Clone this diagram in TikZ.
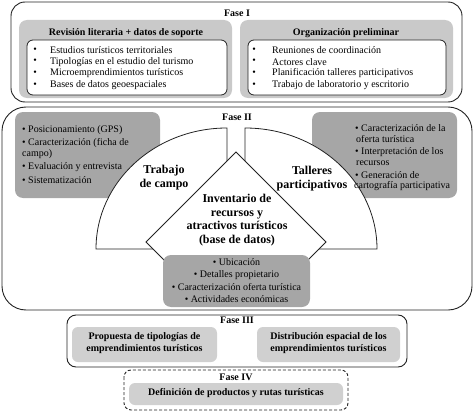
\documentclass[tikz,border=0pt]{standalone}
\usepackage{fontspec}
\setmainfont{Liberation Serif}
\definecolor{gI}{HTML}{C9C9C9}
\definecolor{gII}{HTML}{A6A6A6}
\definecolor{gIII}{HTML}{D0D0D0}
\definecolor{lineC}{HTML}{222222}
\begin{document}
\begin{tikzpicture}[x=1pt,y=1pt,
  phase/.style={draw=lineC,line width=0.9pt},
  inbox/.style={draw=lineC,fill=white,line width=0.8pt,rounded corners=6pt},
  txt/.style={inner sep=0pt,font=\fontsize{10}{12}\selectfont},
  btxt/.style={inner sep=0pt,align=center,font=\fontsize{10}{12.2}\selectfont\bfseries},
  fanlbl/.style={inner sep=0pt,align=center,font=\fontsize{12}{13.5}\selectfont\bfseries},
  fanshape/.style={draw=lineC,line width=0.8pt,fill=white}]
\useasboundingbox (0,0) rectangle (474,-412);

% ---------------- Fase I ----------------
\draw[phase,rounded corners=14pt] (11,-2) rectangle (462,-102);
\fill[gI,rounded corners=8pt] (19,-20) rectangle (232,-98);
\fill[gI,rounded corners=8pt] (240,-20) rectangle (453,-98);
\draw[inbox] (27,-40) rectangle (227,-95);
\draw[inbox] (248,-40) rectangle (446,-95);
\node[btxt] (f1) at (237,-13) {Fase I};
\node[btxt] (rev) at (126,-33) {Revisión literaria + datos de soporte};
\node[btxt] (org) at (346,-33) {Organización preliminar};
\foreach \t [count=\i] in {Estudios turísticos territoriales,Tipologías en el estudio del turismo,Microemprendimientos turísticos,Bases de datos geoespaciales}{
  \node[txt] (lb\i) at (35,-50-11.7*\i+11.7) {•};
  \node[txt,anchor=west] (lt\i) at (50,-50-11.7*\i+11.7) {\t};
}
\foreach \t [count=\i] in {Reuniones de coordinación,Actores clave,Planificación talleres participativos,Trabajo de laboratorio y escritorio}{
  \node[txt] (rb\i) at (254,-50-11.7*\i+11.7) {•};
  \node[txt,anchor=west] (rt\i) at (272,-50-11.7*\i+11.7) {\t};
}

% ---------------- Fase II ----------------
\draw[phase,rounded corners=24pt] (2,-107) rectangle (472,-310);
\node[btxt] (f2) at (237,-117) {Fase II};
\fill[gII,rounded corners=8pt] (15,-112) rectangle (160,-198);
\fill[gII,rounded corners=8pt] (312,-112) rectangle (457,-198);

\node[txt,anchor=west] (c1) at (22,-130) {• Posicionamiento (GPS)};
\node[txt,anchor=west] (c2) at (22,-143) {• Caracterización (ficha de};
\node[txt,anchor=west] (c3) at (22,-154.5) {campo)};
\node[txt,anchor=west] (c4) at (22,-167) {• Evaluación y entrevista};
\node[txt,anchor=west] (c5) at (22,-180) {• Sistematización};

% fan sectors
\draw[fanshape] (227,-249) -- (96,-249) arc[start angle=180,end angle=90,x radius=131pt,y radius=121pt] -- cycle;
\draw[fanshape] (245,-249) -- (245,-128) arc[start angle=90,end angle=0,x radius=132pt,y radius=121pt] -- cycle;

% right grey box text
\node[txt,anchor=west] (t1) at (355,-128) {• Caracterización de la};
\node[txt,anchor=west] (t2) at (356,-139) {oferta turística};
\node[txt,anchor=west] (t3) at (355,-152) {• Interpretación de los};
\node[txt,anchor=west] (t4) at (356,-163) {recursos};
\node[txt,anchor=west] (t5) at (355,-175) {• Generación de};
\node[txt,anchor=west] (t6) at (354,-186) {cartografía participativa};

% central diamond
\fill[white] (168,-264) -- (146,-242) -- (236,-152) -- (326,-242) -- (304,-264) -- cycle;
\draw[lineC,line width=0.8pt] (168,-264) -- (146,-242) -- (236,-152) -- (326,-242) -- (304,-264);

% bottom grey box
\fill[gII,rounded corners=8pt] (163,-255) rectangle (310,-307);
\node[txt,align=center,font=\fontsize{10}{12.5}\selectfont] (inv) at (236.5,-280.5) {• Ubicación\\• Detalles propietario\\• Caracterización oferta turística\\• Actividades económicas};

\node[fanlbl] (tc) at (164,-177.5) {Trabajo\\de campo};
\node[fanlbl] (tp) at (312,-178.5) {Talleres\\participativos};
\node[fanlbl] (ira) at (237,-220) {Inventario de\\recursos y\\atractivos turísticos\\(base de datos)};

% ---------------- Fase III ----------------
\draw[phase,rounded corners=9pt] (67,-315) rectangle (407,-367);
\node[btxt] (f3) at (237,-320) {Fase III};
\fill[gIII,rounded corners=6pt] (72,-327) rectangle (217,-362);
\fill[gIII,rounded corners=6pt] (257,-327) rectangle (400,-362);
\node[btxt] (p3a) at (144.5,-343) {Propuesta de tipologías de\\emprendimientos turísticos};
\node[btxt] (p3b) at (328.5,-343) {Distribución espacial de los\\emprendimientos turísticos};

% ---------------- Fase IV ----------------
\draw[phase,dash pattern=on 3pt off 2pt,rounded corners=7pt] (124,-370) rectangle (348,-410);
\node[btxt] (f4) at (236,-377) {Fase IV};
\fill[gIII,rounded corners=6pt] (129,-383) rectangle (343,-405);
\node[btxt] (p4) at (236,-393.5) {Definición de productos y rutas turísticas};
\end{tikzpicture}
\end{document}
